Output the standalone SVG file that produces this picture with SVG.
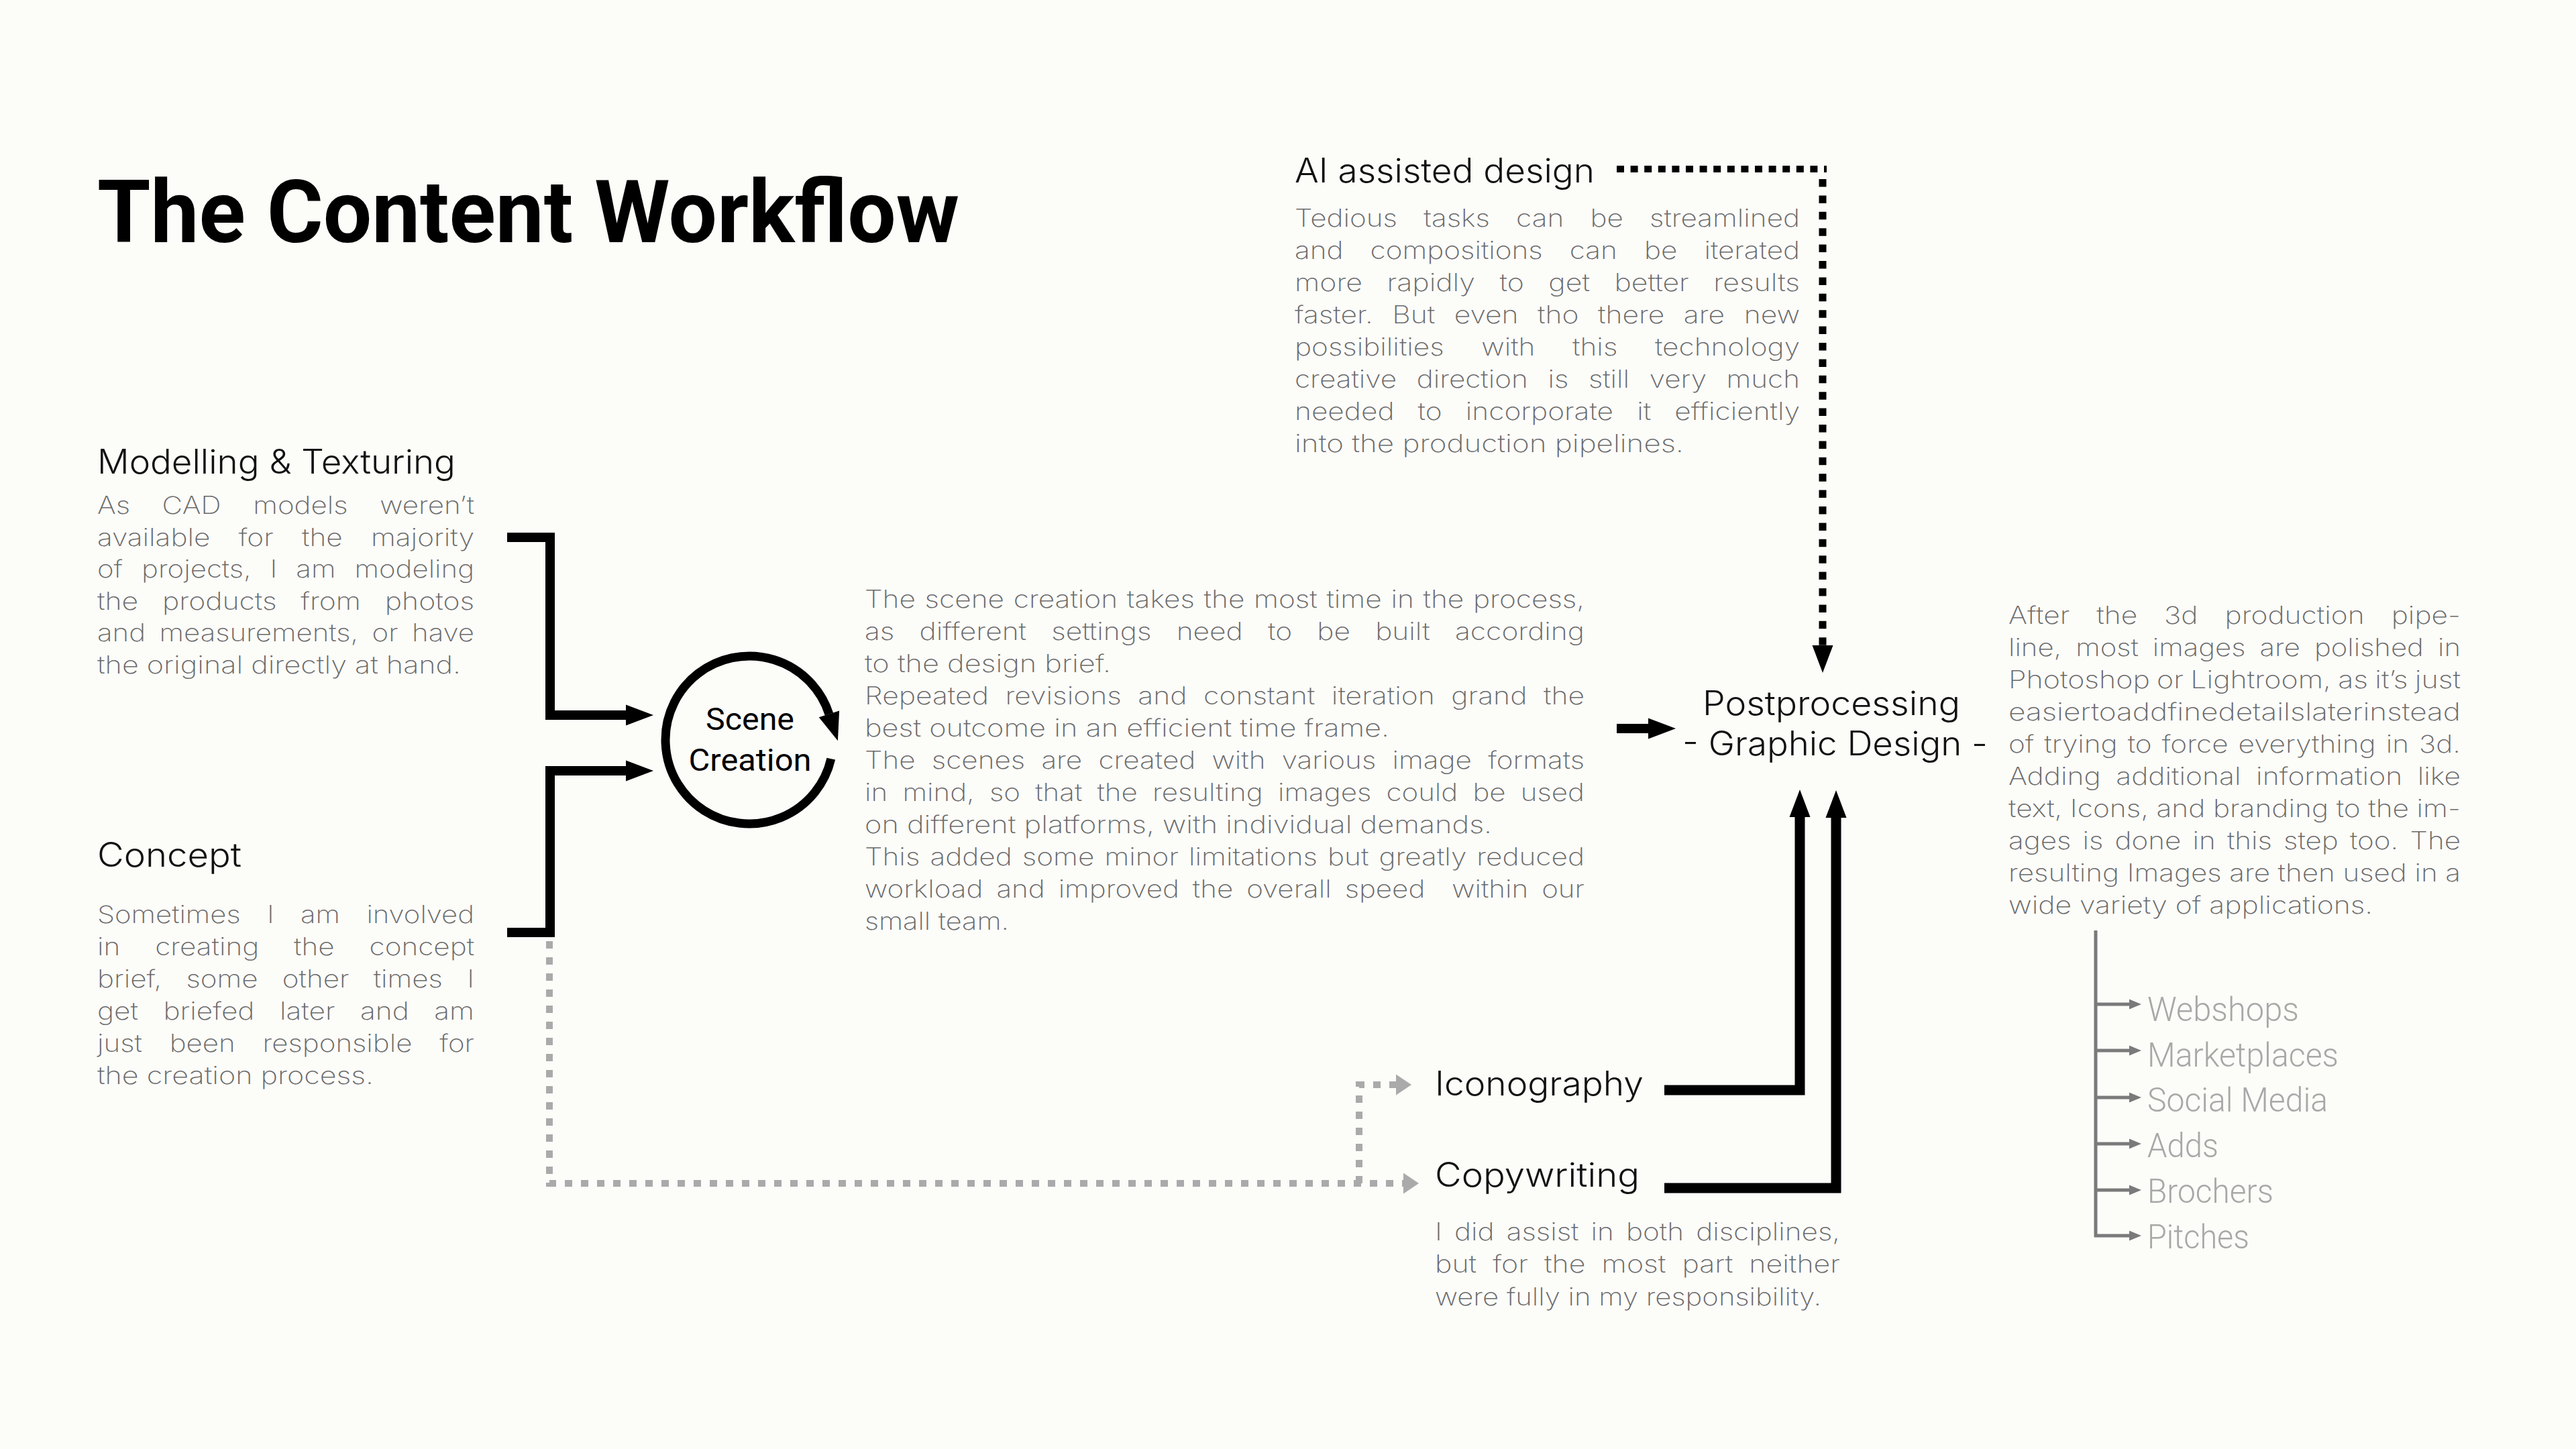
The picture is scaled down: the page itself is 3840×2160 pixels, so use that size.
<svg xmlns="http://www.w3.org/2000/svg" width="3840" height="2160" viewBox="0 0 3840 2160">
<defs>
<style>
.title{font-family:Roboto,"Liberation Sans",sans-serif;font-weight:700;font-size:129px;fill:#000}
.h{font-family:Inter,"Noto Sans",sans-serif;font-weight:300;font-size:50px;fill:#111}
.b{font-family:Inter,"Noto Sans",sans-serif;font-weight:200;font-size:36px;fill:#6a6a6a}
.sc{font-family:Roboto,"Liberation Sans",sans-serif;font-weight:400;font-size:47px;fill:#000;text-anchor:middle}
.li{font-family:Roboto,"Liberation Sans",sans-serif;font-weight:300;font-size:50px;fill:#a8a8a8}
.blk{fill:none;stroke:#000;stroke-linejoin:miter;stroke-linecap:butt}
.gd{fill:none;stroke:#aaaaaa;stroke-width:10;stroke-dasharray:11 13}
.tr{fill:none;stroke:#7a7a7a;stroke-width:5}
</style>
<marker id="ah" markerUnits="userSpaceOnUse" markerWidth="42" markerHeight="32" refX="0" refY="15.5" orient="auto" overflow="visible"><path d="M0,0 L41,15.5 L0,31 z" fill="#000"/></marker>
<marker id="ahg" markerUnits="userSpaceOnUse" markerWidth="24" markerHeight="32" refX="0" refY="15.5" orient="auto" overflow="visible"><path d="M0,0 L23,15.5 L0,31 z" fill="#aaaaaa"/></marker>
<marker id="aht" markerUnits="userSpaceOnUse" markerWidth="18" markerHeight="16" refX="0" refY="7.5" orient="auto" overflow="visible"><path d="M0,0 L18,7.5 L0,15 z" fill="#7a7a7a"/></marker>
</defs>
<rect width="3840" height="2160" fill="#fcfcf9"/>

<g id="title"><text class="title" x="145" y="361" textLength="1285" lengthAdjust="spacingAndGlyphs">The Content Workflow</text></g>

<g id="connectors">
<path class="blk" stroke-width="14" d="M756,801 H820 V1066 H933" marker-end="url(#ah)"/>
<path class="blk" stroke-width="14" d="M756,1390 H820 V1149 H933" marker-end="url(#ah)"/>
<path class="blk" stroke-width="15" d="M2481,1625 H2683 V1218" marker-end="url(#ah)"/>
<path class="blk" stroke-width="15" d="M2481,1771 H2737 V1219" marker-end="url(#ah)"/>
<path class="blk" stroke-width="14" d="M2410,1086 H2457" marker-end="url(#ah)"/>
<path fill="none" stroke="#000" stroke-width="10" stroke-dasharray="11 9.6" d="M2410,252 H2723"/>
<path fill="none" stroke="#000" stroke-width="11" stroke-dasharray="11.5 12.9" d="M2717,267 V962"/>
<path fill="none" stroke="none" d="M2717,950 V962" marker-end="url(#ah)"/>
<path class="gd" d="M819,1403 V1764 H2092"/>
<path fill="none" stroke="none" d="M2080,1764 H2092" marker-end="url(#ahg)"/>
<path class="gd" d="M2026,1764 V1617 H2081"/>
<path fill="none" stroke="none" d="M2070,1617 H2081" marker-end="url(#ahg)"/>
<path class="tr" d="M3124,1387 V1844"/>
<path class="tr" d="M3122,1497 H3174" marker-end="url(#aht)"/>
<path class="tr" d="M3122,1566 H3174" marker-end="url(#aht)"/>
<path class="tr" d="M3122,1636 H3174" marker-end="url(#aht)"/>
<path class="tr" d="M3122,1705 H3174" marker-end="url(#aht)"/>
<path class="tr" d="M3122,1774 H3174" marker-end="url(#aht)"/>
<path class="tr" d="M3122,1842 H3174" marker-end="url(#aht)"/>
</g>

<g id="modelling">
<text class="h" x="145" y="706" textLength="534" lengthAdjust="spacingAndGlyphs">Modelling &amp; Texturing</text>
<text class="b" x="145" y="766" textLength="562" lengthAdjust="spacingAndGlyphs" word-spacing="30.5">As CAD models weren’t</text>
<text class="b" x="145" y="813.6" textLength="562" lengthAdjust="spacingAndGlyphs" word-spacing="25.8">available for the majority</text>
<text class="b" x="145" y="861.2" textLength="562" lengthAdjust="spacingAndGlyphs" word-spacing="13.9">of projects, I am modeling</text>
<text class="b" x="145" y="908.8" textLength="562" lengthAdjust="spacingAndGlyphs" word-spacing="20.1">the products from photos</text>
<text class="b" x="145" y="956.4" textLength="562" lengthAdjust="spacingAndGlyphs" word-spacing="7.5">and measurements, or have</text>
<text class="b" x="145" y="1004" textLength="542" lengthAdjust="spacingAndGlyphs">the original directly at hand.</text>
</g>

<g id="concept">
<text class="h" x="145" y="1292" textLength="215" lengthAdjust="spacingAndGlyphs">Concept</text>
<text class="b" x="145" y="1376" textLength="562" lengthAdjust="spacingAndGlyphs" word-spacing="23.7">Sometimes I am involved</text>
<text class="b" x="145" y="1424" textLength="562" lengthAdjust="spacingAndGlyphs" word-spacing="34.1">in creating the concept</text>
<text class="b" x="145" y="1472" textLength="562" lengthAdjust="spacingAndGlyphs" word-spacing="20.8">brief, some other times I</text>
<text class="b" x="145" y="1520" textLength="562" lengthAdjust="spacingAndGlyphs" word-spacing="21.8">get briefed later and am</text>
<text class="b" x="145" y="1568" textLength="562" lengthAdjust="spacingAndGlyphs" word-spacing="24.8">just been responsible for</text>
<text class="b" x="145" y="1616" textLength="412" lengthAdjust="spacingAndGlyphs">the creation process.</text>
</g>

<g id="scene-creation">
<path fill="none" stroke="#000" stroke-width="13" d="M1238.8,1131.1 A125,125 0 1 1 1235.9,1064.4"/>
<polygon points="1251.1,1059.5 1248.9,1104.3 1220.7,1069.3" fill="#000"/>
<text class="sc" x="1118" y="1088" textLength="132" lengthAdjust="spacingAndGlyphs">Scene</text>
<text class="sc" x="1118" y="1149" textLength="183" lengthAdjust="spacingAndGlyphs">Creation</text>
</g>

<g id="scene-text">
<text class="b" x="1289" y="906" textLength="1073" lengthAdjust="spacingAndGlyphs" word-spacing="1.5">The scene creation takes the most time in the process,</text>
<text class="b" x="1289" y="954" textLength="1073" lengthAdjust="spacingAndGlyphs" word-spacing="21.4">as different settings need to be built according</text>
<text class="b" x="1289" y="1002" textLength="367" lengthAdjust="spacingAndGlyphs">to the design brief.</text>
<text class="b" x="1289" y="1050" textLength="1073" lengthAdjust="spacingAndGlyphs" word-spacing="10.6">Repeated revisions and constant iteration grand the</text>
<text class="b" x="1289" y="1098" textLength="782" lengthAdjust="spacingAndGlyphs">best outcome in an efficient time frame.</text>
<text class="b" x="1289" y="1146" textLength="1073" lengthAdjust="spacingAndGlyphs" word-spacing="10.6">The scenes are created with various image formats</text>
<text class="b" x="1289" y="1194" textLength="1073" lengthAdjust="spacingAndGlyphs" word-spacing="8.9">in mind, so that the resulting images could be used</text>
<text class="b" x="1289" y="1242" textLength="935" lengthAdjust="spacingAndGlyphs">on different platforms, with individual demands.</text>
<text class="b" x="1289" y="1290" textLength="1073" lengthAdjust="spacingAndGlyphs" word-spacing="2.7">This added some minor limitations but greatly reduced</text>
<text class="b" x="1289" y="1338" textLength="1073" lengthAdjust="spacingAndGlyphs" word-spacing="6.9" xml:space="preserve">workload and improved the overall speed  within our</text>
<text class="b" x="1289" y="1386" textLength="215" lengthAdjust="spacingAndGlyphs">small team.</text>
</g>

<g id="ai-design">
<text class="h" x="1930" y="272" textLength="447" lengthAdjust="spacingAndGlyphs">AI assisted design</text>
<text class="b" x="1930" y="338" textLength="753" lengthAdjust="spacingAndGlyphs" word-spacing="23.3">Tedious tasks can be streamlined</text>
<text class="b" x="1930" y="386" textLength="753" lengthAdjust="spacingAndGlyphs" word-spacing="24">and compositions can be iterated</text>
<text class="b" x="1930" y="434" textLength="753" lengthAdjust="spacingAndGlyphs" word-spacing="20.6">more rapidly to get better results</text>
<text class="b" x="1930" y="482" textLength="753" lengthAdjust="spacingAndGlyphs" word-spacing="14">faster. But even tho there are new</text>
<text class="b" x="1930" y="530" textLength="753" lengthAdjust="spacingAndGlyphs" word-spacing="37.1">possibilities with this technology</text>
<text class="b" x="1930" y="578" textLength="753" lengthAdjust="spacingAndGlyphs" word-spacing="15.1">creative direction is still very much</text>
<text class="b" x="1930" y="626" textLength="753" lengthAdjust="spacingAndGlyphs" word-spacing="19.6">needed to incorporate it efficiently</text>
<text class="b" x="1930" y="674" textLength="580" lengthAdjust="spacingAndGlyphs">into the production pipelines.</text>
</g>

<g id="postprocessing">
<text class="h" x="2538" y="1066" font-size="48" textLength="384" lengthAdjust="spacingAndGlyphs">Postprocessing</text>
<text class="h" x="2508" y="1126" font-size="48" textLength="455" lengthAdjust="spacingAndGlyphs">- Graphic Design -</text>
</g>

<g id="post-text">
<text class="b" x="2994" y="930" textLength="674" lengthAdjust="spacingAndGlyphs" word-spacing="23.7">After the 3d production pipe-</text>
<text class="b" x="2994" y="978" textLength="674" lengthAdjust="spacingAndGlyphs" word-spacing="8">line, most images are polished in</text>
<text class="b" x="2994" y="1026" textLength="674" lengthAdjust="spacingAndGlyphs" word-spacing="-1.5">Photoshop or Lightroom, as it’s just</text>
<text class="b" x="2994" y="1074" textLength="674" lengthAdjust="spacingAndGlyphs">easiertoaddfinedetailslaterinstead</text>
<text class="b" x="2994" y="1122" textLength="674" lengthAdjust="spacingAndGlyphs" word-spacing="2.6">of trying to force everything in 3d.</text>
<text class="b" x="2994" y="1170" textLength="674" lengthAdjust="spacingAndGlyphs" word-spacing="8.9">Adding additional information like</text>
<text class="b" x="2994" y="1218" textLength="674" lengthAdjust="spacingAndGlyphs" word-spacing="-0.4">text, Icons, and branding to the im-</text>
<text class="b" x="2994" y="1266" textLength="674" lengthAdjust="spacingAndGlyphs" word-spacing="4.5">ages is done in this step too. The</text>
<text class="b" x="2994" y="1314" textLength="674" lengthAdjust="spacingAndGlyphs" word-spacing="-0.2">resulting Images are then used in a</text>
<text class="b" x="2994" y="1362" textLength="543" lengthAdjust="spacingAndGlyphs">wide variety of applications.</text>
</g>

<g id="iconography">
<text class="h" x="2139" y="1633" textLength="311" lengthAdjust="spacingAndGlyphs">Iconography</text>
</g>

<g id="copywriting">
<text class="h" x="2139" y="1769" textLength="305" lengthAdjust="spacingAndGlyphs">Copywriting</text>
<text class="b" x="2139" y="1849" textLength="604" lengthAdjust="spacingAndGlyphs" word-spacing="5.3">I did assist in both disciplines,</text>
<text class="b" x="2139" y="1897" textLength="604" lengthAdjust="spacingAndGlyphs" word-spacing="10.1">but for the most part neither</text>
<text class="b" x="2139" y="1946" textLength="576" lengthAdjust="spacingAndGlyphs">were fully in my responsibility.</text>
</g>

<g id="applications">
<text class="li" x="3201" y="1522" textLength="226" lengthAdjust="spacingAndGlyphs">Webshops</text>
<text class="li" x="3201" y="1590" textLength="285" lengthAdjust="spacingAndGlyphs">Marketplaces</text>
<text class="li" x="3201" y="1657" textLength="269" lengthAdjust="spacingAndGlyphs">Social Media</text>
<text class="li" x="3201" y="1725" textLength="106" lengthAdjust="spacingAndGlyphs">Adds</text>
<text class="li" x="3201" y="1793" textLength="188" lengthAdjust="spacingAndGlyphs">Brochers</text>
<text class="li" x="3201" y="1861" textLength="152" lengthAdjust="spacingAndGlyphs">Pitches</text>
</g>
</svg>
